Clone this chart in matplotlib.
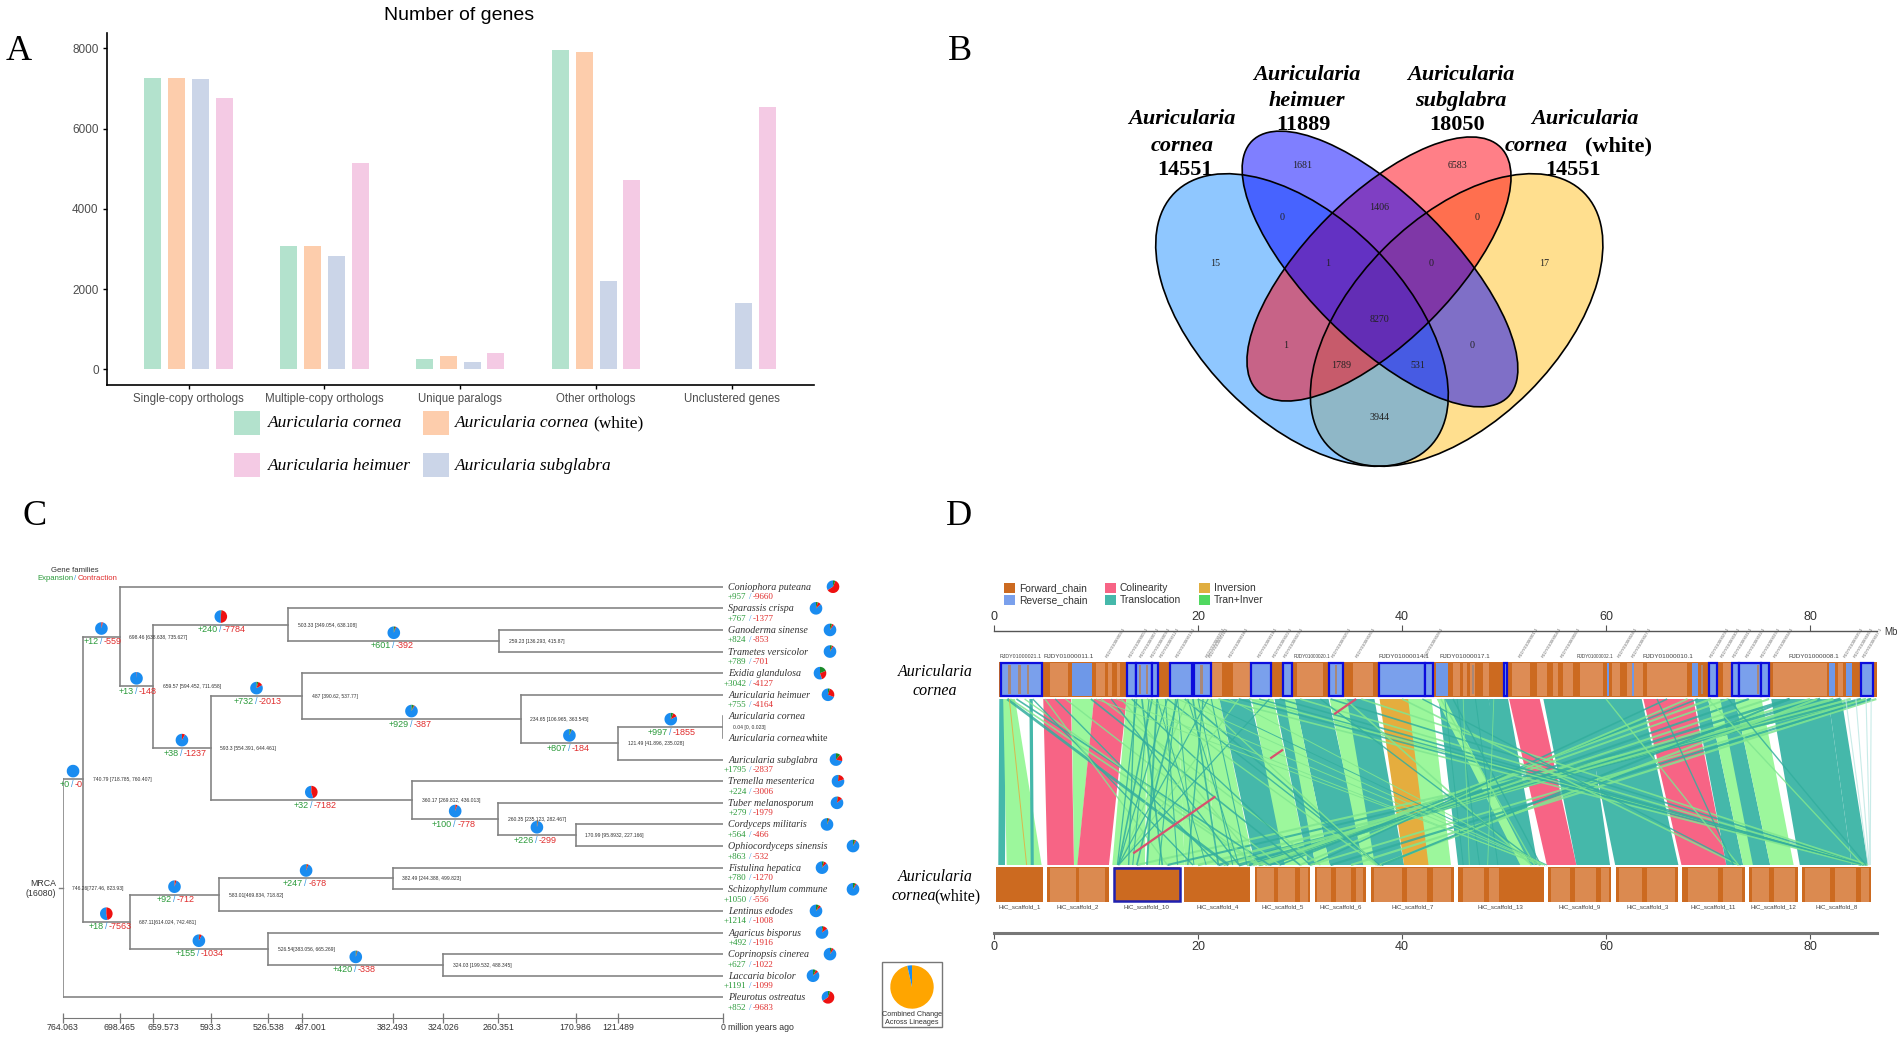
import matplotlib
matplotlib.use('Agg')
import matplotlib.pyplot as plt
from matplotlib.patches import Ellipse, Rectangle, Wedge

W, H = 1902, 1039
SERIF = 'Liberation Serif'
SANS = 'Liberation Sans'

# ---- panel A
categories = ['Single-copy orthologs', 'Multiple-copy orthologs', 'Unique paralogs', 'Other orthologs', 'Unclustered genes']
genes_cornea = [7265, 3073, 266, 7965, 0]
genes_white = [7265, 3073, 324, 7907, 0]
genes_subglabra = [7235, 2824, 174, 2201, 1653]
genes_heimuer = [6753, 5150, 399, 4709, 6537]
bar_colors = ['#B3E2CD', '#FDCDAC', '#CBD5E8', '#F4CAE4']

# ---- panel B
venn_counts = [1681, 6583, 0, 1406, 0, 15, 1, 0, 17, 8270, 1, 0, 1789, 531, 3944]
venn_xy = [(1302, 165), (1457, 165), (1282, 217), (1379, 207), (1477, 217), (1215, 263), (1328, 263), (1431, 263),
           (1544, 263), (1379, 320), (1286, 345), (1472, 345), (1341, 366), (1418, 366), (1379, 417)]

# ---- panel C
leaf_names = ['Coniophora puteana', 'Sparassis crispa', 'Ganoderma sinense', 'Trametes versicolor', 'Exidia glandulosa',
              'Auricularia heimuer', 'Auricularia cornea', 'Auricularia cornea', 'Auricularia subglabra',
              'Tremella mesenterica', 'Tuber melanosporum', 'Cordyceps militaris', 'Ophiocordyceps sinensis',
              'Fistulina hepatica', 'Schizophyllum commune', 'Lentinus edodes', 'Agaricus bisporus',
              'Coprinopsis cinerea', 'Laccaria bicolor', 'Pleurotus ostreatus']
leaf_gain = [957, 767, 824, 789, 3042, 755, None, None, 1795, 224, 279, 564, 863, 780, 1050, 1214, 492, 627, 1191, 852]
leaf_loss = [9660, 1377, 853, 701, 4127, 4164, None, None, 2837, 3006, 1979, 466, 532, 1270, 556, 1008, 1916, 1022, 1099, 9683]
leaf_pie_x = [833, 816, 830, 830, 820, 828, None, None, 836, 838, 837, 827, 853, 822, 853, 816, 822, 830, 813, 828]

tree_children = {
    'root': ['n741', 19], 'n741': ['n698', 'n687'], 'n698': [0, 'n660'], 'n660': ['n503', 'n593'], 'n503': [1, 'n259'],
    'n259': [2, 3], 'n593': ['n487', 'n360'], 'n487': [4, 'n235'], 'n235': [5, 'n121'], 'n121': ['n0', 8], 'n0': [6, 7],
    'n360': [9, 'n260'], 'n260': [10, 'n171'], 'n171': [11, 12], 'n687': ['n583', 'n527'], 'n583': ['n382', 15],
    'n382': [13, 14], 'n527': [16, 'n324'], 'n324': [17, 18],
}
node_age = {'root': 764.063, 'n741': 740.79, 'n698': 698.46, 'n660': 659.57, 'n503': 503.33, 'n259': 259.23,
            'n593': 593.3, 'n487': 487, 'n235': 234.65, 'n121': 121.49, 'n0': 0.04, 'n360': 360.17, 'n260': 260.35,
            'n171': 170.99, 'n687': 687.11, 'n583': 583.01, 'n382': 382.49, 'n527': 526.54, 'n324': 324.03}
node_text = {'root': '746.26[727.46, 823.93]', 'n741': '740.79 [718.785, 760.407]', 'n698': '698.46 [638.638, 735.627]',
             'n660': '659.57 [594.452, 711.658]', 'n503': '503.33 [349.054, 638.108]', 'n259': '259.23 [136.293, 415.87]',
             'n593': '593.3 [554.391, 644.461]', 'n487': '487 [390.62, 537.77]', 'n235': '234.65 [106.965, 363.545]',
             'n121': '121.49 [41.896, 235.028]', 'n0': '0.04 [0, 0.023]', 'n360': '360.17 [269.812, 436.013]',
             'n260': '260.35 [235.123, 282.467]', 'n171': '170.99 [95.8932, 227.166]', 'n687': '687.11[614.024, 742.481]',
             'n583': '583.01[469.834, 718.82]', 'n382': '382.49 [244.388, 499.823]', 'n527': '526.54[383.056, 665.269]',
             'n324': '324.03 [199.532, 488.345]'}
# gain / loss on the branch leading to each node
branch_change = {'n741': (0, 0), 'n698': (12, 559), 'n660': (13, 148), 'n503': (240, 7784), 'n259': (601, 392),
                 'n593': (38, 1237), 'n487': (732, 2013), 'n235': (929, 387), 'n121': (807, 184), 'n0': (997, 1855),
                 'n360': (32, 7182), 'n260': (100, 778), 'n171': (226, 299), 'n687': (18, 7563), 'n583': (92, 712),
                 'n382': (247, 678), 'n527': (155, 1034), 'n324': (420, 338)}
total_families = 16080
combined_change = [96.5, 3.5]

time_ticks = [764.063, 698.465, 659.573, 593.3, 526.538, 487.001, 382.493, 324.026, 260.351, 170.986, 121.489, 0]
time_labels = ['764.063', '698.465', '659.573', '593.3', '526.538', '487.001', '382.493', '324.026', '260.351', '170.986', '121.489', '0']
time_label_shift = [0, 0, 10, 0, 0, 8, 0, 0, 0, 0, 0, 0]

# ---- panel D, all in Mb
scaffold_names = ['HiC_scaffold_1', 'HiC_scaffold_2', 'HiC_scaffold_10', 'HiC_scaffold_4', 'HiC_scaffold_5', 'HiC_scaffold_6',
                  'HiC_scaffold_7', 'HiC_scaffold_13', 'HiC_scaffold_9', 'HiC_scaffold_3', 'HiC_scaffold_11', 'HiC_scaffold_12', 'HiC_scaffold_8']
scaffold_start = [0.24, 5.18, 11.75, 18.67, 25.54, 31.45, 37, 45.5, 54.3, 61, 67.5, 74, 79.2]
scaffold_end = [4.76, 11.27, 18.2, 25.1, 31, 36.5, 45.06, 53.9, 60.5, 67.1, 73.6, 78.8, 86]
lower_stripes = [(5.5, 8), (8.3, 10.9), (25.8, 27.5), (27.8, 29.5), (30, 30.8), (31.7, 33), (33.5, 35), (35.5, 36.2), (37.3, 40),
                 (40.5, 42.5), (43, 44.8), (46, 48), (48.5, 49.5), (54.6, 56.5), (57, 59), (59.5, 60.3), (61.3, 63.5), (64, 66.8),
                 (68, 71), (71.5, 73.3), (74.3, 76), (76.5, 78.5), (79.5, 82), (82.5, 84.5), (85, 85.8)]
upper_stripes = [(5.49, 7.29), (9.98, 10.88), (11.21, 11.54), (12.03, 12.35), (21.34, 22.32), (23.47, 25.1), (29.68, 32.29),
                 (35.23, 37.19), (45.04, 45.69), (46.02, 46.41), (46.67, 47.16), (47.98, 48.57), (50.76, 52.55), (53.2, 54.19),
                 (54.84, 55.33), (55.82, 56.8), (57.46, 59.74), (60.56, 61.38), (62.03, 63.67), (64, 67.91), (71.5, 72.33),
                 (76.41, 81.64), (82.78, 83.27)]
reverse_boxed = [(0.66, 4.7), (13.07, 13.9), (13.9, 15.5), (15.5, 16.1), (17.3, 19.4), (19.65, 21.25), (25.2, 27.2), (28.36, 29.2),
                 (32.8, 34.2), (37.7, 42.25), (42.25, 43), (50, 50.3), (70.07, 70.9), (72.4, 73), (73, 75.2), (75.2, 76), (85, 86.2)]
reverse_plain = [(7.65, 9.6), (43.3, 44.5), (60.07, 60.33), (62.55, 62.75), (68.4, 69), (81.9, 82.45), (83.5, 84.1)]
gray_marks = [(1.4, 1.7), (2.4, 2.6), (3.2, 3.4), (14.2, 14.4), (14.9, 15.1), (20.2, 20.5), (33.4, 33.6), (46.9, 47.1), (69.3, 69.5), (74.8, 75)]

scaffold_ids = [3, 5, 7, 9, 12, 13, 15, 16, 18, 19, 22, 23, 25, 26, 28, 1, 4, 6, 24, 27, 29, 30, 31, 32, 33, 34, 35, 36, 37]
scaffold_id_mb = [11.2, 13.5, 14.6, 15.6, 16.5, 18.1, 21, 21.3, 23.3, 26.1, 27.6, 28.7, 33.4, 35.7, 42.4,
                  51.74, 54, 55.8, 61.4, 62.75, 70.4, 71.5, 72.65, 74, 75.4, 76.7, 83.6, 84.6, 85.4]
named_contigs = ['RJDY01000021.1', 'RJDY01000011.1', 'RJDY01000020.1', 'RJDY01000014.1', 'RJDY01000017.1', 'RJDY01000002.1', 'RJDY01000010.1', 'RJDY01000008.1']
named_contig_mb = [0.6, 4.85, 29.4, 37.7, 43.7, 57.1, 63.6, 77.9]
named_contig_size = [3.8, 4.6, 3.4, 4.6, 4.6, 3.4, 4.6, 4.6]

# kind, top start, top end, bottom start, bottom end
ribbons_right = [('col', 50.5, 53.5, 54.2, 57.1), ('tra', 53.86, 58, 57.1, 60.4), ('tra', 57.6, 63.5, 60.9, 67.1),
                 ('col', 63.66, 68.56, 67.4, 71.8), ('tra', 68.7, 70, 71.8, 73.45), ('both', 70, 71.3, 73.45, 74.8),
                 ('tra', 71.2, 72.65, 74.4, 76.1), ('both', 72.65, 75.25, 76.1, 78.4), ('tra', 76.2, 81.8, 79, 84.1),
                 ('tra', 81.8, 83.1, 84.1, 85.7)]
ribbons_left = [('tra', 0.52, 1.18, 0.42, 1.08), ('both', 0.9, 2.06, 1.24, 4.67), ('tra', 3.47, 3.8, 3.6, 3.9),
                ('both', 7.6, 9.8, 7.85, 8.2), ('col', 4.83, 7.55, 5.23, 7.84), ('col', 9.8, 13, 8.17, 11.27),
                ('both', 13, 15, 11.6, 14.8), ('both', 14.9, 18, 15, 18.7), ('both', 18, 20.5, 18.7, 21.8),
                ('both', 20.5, 22.1, 21.8, 25.5), ('tra', 22.1, 25.1, 25.6, 28.9), ('both', 25.26, 27.4, 28.5, 30.8),
                ('tra', 27.5, 28.7, 30.8, 31.5), ('tra', 29.5, 32.8, 32.9, 36.4), ('both', 28.5, 29.5, 31.5, 32.9),
                ('both', 32.9, 34.6, 36.2, 37.8), ('tra', 34.6, 37.3, 37.35, 40.2), ('inv', 37.8, 40.7, 40.2, 43),
                ('both', 40.6, 42.9, 42.6, 44.8), ('tra', 43.6, 48.5, 45.5, 51.5), ('tra', 48.5, 50.4, 50.2, 53.3),
                ('both', 43.4, 44.2, 51.6, 52.6)]

# kind, top, bottom, width
lines_long = [('both', 86, 14, 1.5), ('tra', 86, 17, 1.5), ('both', 85.5, 20, 1.8), ('tra', 85, 22, 1.8), ('both', 84, 22.5, 1.8),
              ('tra', 83, 24, 2.2), ('both', 82.3, 24.8, 2), ('tra', 81, 25, 2), ('both', 80, 25.4, 1.6), ('tra', 78, 26, 1.8),
              ('both', 76, 26.6, 1.5), ('tra', 74, 27, 1.5), ('both', 72, 26.2, 1.4), ('both', 70.3, 26, 1.6), ('tra', 69, 28, 1.2),
              ('both', 68, 30, 1.4), ('tra', 66, 31, 1.2), ('both', 86.5, 35, 1.6), ('tra', 86, 33, 1.6), ('both', 85.5, 31, 1.4),
              ('both', 80.7, 37.8, 1.6), ('tra', 78, 38, 1.5), ('both', 25, 85.5, 1.2), ('tra', 28, 85, 1.2), ('both', 30, 85.4, 1.2),
              ('tra', 33, 85.6, 1.2), ('both', 36, 85.7, 1.2), ('tra', 24, 85.2, 1.2), ('both', 22, 85, 1.2), ('tra', 26, 85.3, 1),
              ('both', 40, 73, 1.2), ('tra', 42, 73.2, 1), ('both', 60, 73, 1), ('tra', 65, 72.5, 1), ('both', 70, 85.2, 1),
              ('tra', 72, 85.5, 1), ('both', 34.4, 52.7, 1.2), ('tra', 32, 53.5, 1), ('both', 43.8, 53, 1), ('tra', 45, 53.6, 1),
              ('faint', 83.5, 85.7, 0.8), ('faint', 84.5, 85.8, 0.8), ('faint', 85.5, 85.9, 0.8), ('faint', 86, 85.9, 0.8)]
lines_short = [('tra', 1.3, 23, 2), ('both', 1.6, 25.8, 1.2), ('tra', 2.2, 27, 1.2), ('both', 3, 26, 1), ('tra', 3.8, 19.5, 1),
               ('both', 5, 17, 1), ('tra', 6, 22, 1), ('both', 7, 28, 1), ('tra', 9.5, 30, 1.2), ('both', 10.5, 32, 1),
               ('tra', 11.5, 24, 1), ('both', 12.5, 26, 1), ('tra', 13.5, 31, 1), ('both', 15, 37.5, 1), ('tra', 17, 37.8, 1),
               ('tra', 18.7, 37.7, 1.2), ('both', 20, 37.6, 1), ('tra', 14, 12.1, 0.9), ('tra', 15.5, 12.2, 1.2), ('tra', 17, 12.2, 0.9),
               ('both', 19, 12.3, 0.9), ('tra', 21, 12.2, 0.9), ('both', 24, 12.3, 0.9), ('tra', 27, 12.2, 0.9), ('tra', 16, 15, 1.4),
               ('tra', 18, 14, 1.2), ('tra', 19.5, 22, 1.2), ('tra', 20.5, 19, 1), ('inv', 1.5, 3.2, 0.7),
               ('tra', 13.8, 13.2, 1), ('tra', 14.5, 16.5, 1.2), ('tra', 15.2, 13.6, 0.8), ('tra', 16.8, 18, 0.8), ('tra', 17.8, 16.2, 0.8),
               ('tra', 19, 24, 0.8), ('tra', 20, 23.4, 0.8), ('tra', 21.3, 24.8, 0.8), ('tra', 18, 19.6, 0.7), ('tra', 16, 20.8, 0.7),
               ('tra', 44.2, 46, 0.7), ('tra', 45.4, 47.6, 0.7), ('tra', 47.2, 49.4, 0.7), ('both', 46, 46.6, 0.6), ('both', 49, 48.4, 0.6),
               ('both', 10, 53.8, 0.7), ('both', 12, 53.5, 0.7), ('both', 15, 54, 0.7), ('both', 18, 54, 0.7), ('tra', 20, 54.2, 0.7), ('both', 23, 54, 0.7)]
# the one thin colinear block, mostly hidden under the others
col_line = [35.5, 12]
col_dash = (0, (12, 28, 7, 30, 45, 20))

chain_colors = {'fwd': '#CC6A20', 'rev': '#7AA0EC'}
link_colors = {'col': '#F76485', 'tra': '#45B8AA', 'inv': '#E5AD3E', 'both': '#9CF79C', 'faint': '#BFE8E4'}
thin_colors = {'col': '#D8506E', 'tra': '#33AE9E', 'inv': '#E5AD3E', 'both': '#80E690', 'faint': '#BFE8E4'}


def ax_at(fig, x0, y0, x1, y1):
    # axes from a box given in image pixels
    return fig.add_axes([x0 / W, (H - y1) / H, (x1 - x0) / W, (y1 - y0) / H])


fig = plt.figure(figsize=(W / 100, H / 100), dpi=100)
px = fig.add_axes([0, 0, 1, 1], zorder=10)
px.set_xlim(0, W)
px.set_ylim(H, 0)
px.axis('off')
px.patch.set_alpha(0)

for letter, lx, ly in [('A', 6, 60), ('B', 948, 60), ('C', 23, 525), ('D', 946, 525)]:
    px.text(lx, ly, letter, family=SERIF, fontsize=26, ha='left', va='baseline', color='black')

# ---------- A: bars
axA = ax_at(fig, 107, 33, 813.6, 385)
series = [genes_cornea, genes_white, genes_subglabra, genes_heimuer]
for i, vals in enumerate(series):
    xs = [c - 0.2625 + 0.175 * i for c in range(len(categories))]
    axA.bar(xs, vals, width=0.125, color=bar_colors[i], linewidth=0)
axA.set_xlim(-0.6, 4.6)
axA.set_ylim(-391, 8384)
axA.set_xticks(range(len(categories)))
axA.set_xticklabels(categories, family=SANS, fontsize=8.3, color='#4D4D4D')
axA.set_yticks([0, 2000, 4000, 6000, 8000])
axA.set_yticklabels(['0', '2000', '4000', '6000', '8000'], family=SANS, fontsize=8.5, color='#4D4D4D')
axA.tick_params(length=3, width=1, pad=3)
axA.spines[['top', 'right']].set_visible(False)
axA.spines[['left', 'bottom']].set_linewidth(1.2)
px.text(459, 16, 'Number of genes', family=SANS, fontsize=14, ha='center', va='center')

legend_boxes = [(234, 411, 0), (423, 411, 1), (234, 453, 3), (423, 453, 2)]
for bx, by, c in legend_boxes:
    px.add_patch(Rectangle((bx, by), 26, 24, color=bar_colors[c], lw=0))
for tx, ty, s in [(268, 423, 'Auricularia cornea'), (455, 423, 'Auricularia cornea'), (268, 466, 'Auricularia heimuer'), (455, 466, 'Auricularia subglabra')]:
    px.text(tx, ty, s, family=SERIF, style='italic', fontsize=12.5, va='center')
px.text(593, 423, '(white)', family=SERIF, fontsize=12.5, va='center')

# ---------- B: venn, drawn yellow first so the overlaps come out right
ellipses = [((1456.6, 320), 180, 102, 45, '#FFC020'), ((1302, 320), 180, 102, -45, '#2090FF'),
            ((1379, 269), 172, 72.7, 45, '#FF0010'), ((1380, 269), 181, 72.5, -45, '#0000FF')]
for centre, a, b, ang, col in ellipses:
    # y axis of px runs downward, so the sign of the angle is flipped on screen
    px.add_patch(Ellipse(centre, 2 * a, 2 * b, angle=-ang, facecolor=col, alpha=0.5, lw=0))
for centre, a, b, ang, col in ellipses:
    px.add_patch(Ellipse(centre, 2 * a, 2 * b, angle=-ang, fill=False, edgecolor='black', lw=1.2))
for n, (vx, vy) in zip(venn_counts, venn_xy):
    px.text(vx, vy, str(n), family=SERIF, fontsize=7.2, ha='center', va='center', color='#222222')

bold_it = dict(family=SERIF, style='italic', weight='bold', fontsize=16, ha='center', va='center')
bold_rm = dict(family=SERIF, weight='bold', fontsize=16, ha='center', va='center')
for tx, ty, s in [(1182, 119, 'Auricularia'), (1182, 146, 'cornea'), (1307, 75, 'Auricularia'), (1307, 101, 'heimuer'),
                  (1461, 75, 'Auricularia'), (1461, 101, 'subglabra'), (1585, 119, 'Auricularia'), (1536, 146, 'cornea')]:
    px.text(tx, ty, s, **bold_it)
for tx, ty, s in [(1185, 170, '14551'), (1303, 125, '11889'), (1457, 125, '18050'), (1573, 170, '14551'), (1618, 146, '(white)')]:
    px.text(tx, ty, s, **bold_rm)

# ---------- C: tree
axC = ax_at(fig, 63, 560, 723.3, 1018.3)
axC.set_xlim(764.063, 0)
axC.set_ylim(19.97, -1.236)
axC.patch.set_alpha(0)
for side in ['top', 'left', 'right']:
    axC.spines[side].set_visible(False)
axC.spines['bottom'].set_color('#777777')
axC.set_yticks([])
axC.set_xticks(time_ticks)
axC.set_xticklabels([])
axC.tick_params(axis='x', direction='inout', length=7, width=0.9, color='#777777')
for t, lab, dx in zip(time_ticks, time_labels, time_label_shift):
    axC.annotate(lab, (t, 0), xycoords=axC.get_xaxis_transform(), xytext=(dx, -9), textcoords='offset pixels',
                 family=SANS, fontsize=6.3, ha='center', va='center', color='#333333')
px.text(728.5, 1027, 'million years ago', family=SANS, fontsize=6.3, va='center', color='#333333')

node_y = {}


def place(node):
    if isinstance(node, int):
        return node
    ys = [place(c) for c in tree_children[node]]
    node_y[node] = sum(ys) / 2
    return node_y[node]


place('root')
TREE_LINE = dict(color='#808080', lw=1.15, solid_capstyle='projecting')


def age_of(n):
    return 0 if isinstance(n, int) else node_age[n]


def y_of(n):
    return n if isinstance(n, int) else node_y[n]


def to_px(age, y):
    return px.transData.inverted().transform(axC.transData.transform((age, y)))


def draw_pie(cx, cy, r, gain, loss):
    # starts at 12 o'clock and runs clockwise: gain, loss, then the unchanged rest
    green = 360 * gain / total_families
    red = 360 * loss / total_families
    # px has y downward so increasing angles already run clockwise from -90
    px.add_patch(Wedge((cx, cy), r, -90 + green + red, 270, color='#1A8CF0', lw=0))
    if red:
        px.add_patch(Wedge((cx, cy), r, -90 + green, -90 + green + red, color='#EE1111', lw=0))
    if green:
        px.add_patch(Wedge((cx, cy), r, -90, -90 + green, color='#1A8A2A', lw=0))


def gain_loss(sx, cy, gain, loss, family, fs, left, right):
    px.text(sx - left, cy, f'+{gain}', color='#2A9A3A', family=family, fontsize=fs, ha='right', va='center')
    px.text(sx, cy, '/', color='#3A9AE0', family=family, fontsize=fs, ha='center', va='center')
    px.text(sx + right, cy, f'-{loss}', color='#E02C2C', family=family, fontsize=fs, ha='left', va='center')


for node, kids in tree_children.items():
    a = node_age[node]
    axC.plot([a, a], [y_of(kids[0]), y_of(kids[1])], **TREE_LINE)
    for k in kids:
        axC.plot([a, age_of(k)], [y_of(k), y_of(k)], **TREE_LINE)
    nx_, ny_ = to_px(a, node_y[node])
    px.text(nx_ + 9.5, ny_ + 0.5, node_text[node], family=SANS, fontsize=3.6, va='center', color='#333333')
    for k in kids:
        if isinstance(k, str):
            gain, loss = branch_change[k]
            x0, y0 = to_px(a, y_of(k))
            x1, _ = to_px(age_of(k), y_of(k))
            mid = (x0 + x1) / 2
            draw_pie(mid, y0 - 8, 6.3, gain, loss)
            gain_loss(mid - 0.5, y0 + 5, gain, loss, SANS, 6.5, 2.5, 2.5)

rx, ry = to_px(node_age['root'], node_y['root'])
px.plot([rx - 4.5, rx], [ry, ry], color='#808080', lw=1)
px.text(56, 883, 'MRCA', family=SANS, fontsize=6.3, ha='right', va='center', color='#333333')
px.text(56, 894, '(16080)', family=SANS, fontsize=6.3, ha='right', va='center', color='#333333')
px.text(75, 570, 'Gene families', family=SANS, fontsize=5.6, ha='center', va='center', color='#333333')
px.text(74, 579, 'Expansion', family=SANS, fontsize=5.6, ha='right', va='center', color='#2A9A3A')
px.text(75.5, 579, '/', family=SANS, fontsize=5.6, ha='center', va='center', color='#3A9AE0')
px.text(77.5, 579, 'Contraction', family=SANS, fontsize=5.6, ha='left', va='center', color='#E02C2C')

for i, name in enumerate(leaf_names):
    lx, ly = to_px(0, i)
    px.text(728.5, ly + 0.5, name, family=SERIF, style='italic', fontsize=7.2, va='center', color='#333333')
    if leaf_gain[i] is not None:
        gain_loss(750, ly + 10.5, leaf_gain[i], leaf_loss[i], SERIF, 6.5, 3.5, 3)
        draw_pie(leaf_pie_x[i], ly, 6.3, leaf_gain[i], leaf_loss[i])
px.text(806, to_px(0, 7)[1] + 0.5, 'white', family=SERIF, fontsize=7.2, va='center', color='#333333')

px.add_patch(Rectangle((882, 962), 60, 65, fill=False, edgecolor='#777777', lw=1))
px.add_patch(Wedge((912, 987), 21.7, -90, 270 - 360 * combined_change[1] / 100, color='#FFA500', lw=0))
px.add_patch(Wedge((912, 987), 21.7, 270 - 360 * combined_change[1] / 100, 270, color='#1A8CF0', lw=0))
px.text(912, 1014, 'Combined Change', family=SANS, fontsize=5.2, ha='center', va='center', color='#333333')
px.text(912, 1022, 'Across Lineages', family=SANS, fontsize=5.2, ha='center', va='center', color='#333333')

# ---------- D: collinearity, y is in image pixels here
axD = ax_at(fig, 994, 631, 1877, 933)
axD.set_xlim(0, 86.57)
axD.set_ylim(933, 631)
axD.patch.set_alpha(0)
axD.spines[['left', 'right']].set_visible(False)
axD.spines['top'].set_color('#555555')
axD.spines['top'].set_linewidth(1)
axD.spines['bottom'].set_color('#777777')
axD.spines['bottom'].set_linewidth(2.2)
axD.set_yticks([])
axD.set_xticks([0, 20, 40, 60, 80])
axD.xaxis.set_ticks_position('both')
axD.tick_params(axis='x', labeltop=True, labelbottom=True, length=4, width=0.8, color='#555555', pad=1.5, labelcolor='#333333')
for lab in axD.get_xticklabels():
    lab.set_fontfamily(SANS)
    lab.set_fontsize(9)
px.text(1884, 632, 'Mb', family=SANS, fontsize=7, va='center', color='#333333')

RIB_TOP, RIB_BOT = 699, 865


def draw_ribbons(rows):
    for kind, t0, t1, b0, b1 in rows:
        axD.fill([t0, t1, b1, b0], [RIB_TOP, RIB_TOP, RIB_BOT, RIB_BOT], color=link_colors[kind], lw=0)


def draw_lines(rows):
    for kind, t, b, w in rows:
        axD.plot([t, b], [RIB_TOP, RIB_BOT], color=thin_colors[kind], lw=w, alpha=0.85, solid_capstyle='butt')


draw_ribbons(ribbons_right)
draw_lines(lines_long)
draw_ribbons(ribbons_left)
draw_lines(lines_short)
axD.plot(col_line, [RIB_TOP, RIB_BOT], color=thin_colors['col'], lw=1.6, linestyle=col_dash)

# upper genome bar
BAR_Y0, BAR_H = 662, 35
axD.barh(BAR_Y0 + BAR_H / 2, 86.1, left=0.5, height=BAR_H, color=chain_colors['fwd'], lw=0)
for s, e in upper_stripes:
    axD.barh(BAR_Y0 + BAR_H / 2, e - s, left=s, height=BAR_H - 2, color='#DD8C55', lw=0)
for s, e in reverse_plain:
    axD.barh(BAR_Y0 + BAR_H / 2, e - s, left=s, height=BAR_H - 2, color='#6E98E8', lw=0)
for s, e in reverse_boxed:
    axD.add_patch(Rectangle((s, BAR_Y0 + 1), e - s, BAR_H - 2, facecolor=chain_colors['rev'], edgecolor='#0C0CDC', lw=1.6))
for s, e in gray_marks:
    axD.barh(BAR_Y0 + BAR_H / 2, e - s, left=s, height=BAR_H - 6, color='#A88878', lw=0)

# lower genome bar
LOW_Y0, LOW_H = 867, 35
for i, name in enumerate(scaffold_names):
    s, e = scaffold_start[i], scaffold_end[i]
    axD.barh(LOW_Y0 + LOW_H / 2, e - s, left=s, height=LOW_H, color=chain_colors['fwd'], lw=0)
    axD.text((s + e) / 2, 907, name, family=SANS, fontsize=4.5, ha='center', va='center', color='#444444')
for s, e in lower_stripes:
    axD.barh(LOW_Y0 + LOW_H / 2, e - s, left=s, height=LOW_H - 1, color='#DB8A50', lw=0)
axD.add_patch(Rectangle((scaffold_start[2], LOW_Y0 + 1), scaffold_end[2] - scaffold_start[2], LOW_H - 2, fill=False, edgecolor='#2020B0', lw=1.8))

for sid, mb in zip(scaffold_ids, scaffold_id_mb):
    axD.text(mb, 659, f'RJDY010000{sid:02d}.1', family=SANS, fontsize=3.2, rotation=59, rotation_mode='anchor', ha='left', va='bottom', color='#666666')
for name, mb, fs in zip(named_contigs, named_contig_mb, named_contig_size):
    axD.text(mb, 657, name, family=SANS, fontsize=fs, ha='left', va='center', color='#444444')

d_legend = [(1004, 588, 'Forward_chain', chain_colors['fwd']), (1004, 600, 'Reverse_chain', chain_colors['rev']),
            (1105, 588, 'Colinearity', link_colors['col']), (1105, 600, 'Translocation', link_colors['tra']),
            (1199, 588, 'Inversion', '#E0AE40'), (1199, 600, 'Tran+Inver', '#50D860')]
for lx, ly, s, c in d_legend:
    px.add_patch(Rectangle((lx, ly - 5), 11, 10, color=c, lw=0))
    px.text(lx + 15, ly, s, family=SANS, fontsize=7.4, va='center', color='#333333')

for ty, s in [(672, 'Auricularia'), (691, 'cornea')]:
    px.text(935, ty, s, family=SERIF, style='italic', fontsize=11.5, ha='center', va='center')
px.text(935, 877, 'Auricularia', family=SERIF, style='italic', fontsize=11.5, ha='center', va='center')
px.text(892, 896, 'cornea', family=SERIF, style='italic', fontsize=11.5, va='center')
px.text(980, 896, '(white)', family=SERIF, fontsize=11.5, ha='right', va='center')

fig.savefig('out.png', dpi=100)
